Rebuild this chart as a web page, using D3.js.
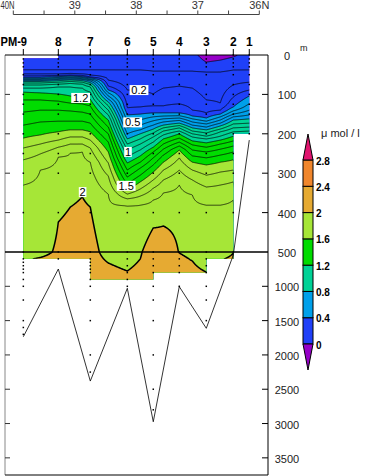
<!DOCTYPE html>
<html><head><meta charset="utf-8">
<script src="https://cdn.jsdelivr.net/npm/d3@7"></script>
<style>
body{margin:0;background:#fff}
svg{display:block}
text{font-family:"Liberation Sans",Arial,sans-serif}
</style>
</head><body>
<svg id="c" width="365" height="476"></svg>
<script>
// ---------------- data ----------------
const stationNames = ["PM-9","8","7","6","5","4","3","2","1"];
const stationLat   = [39.837, 39.268, 38.748, 38.146, 37.724, 37.301, 36.862, 36.423, 36.163];
const stationBottom = [1735, 748, 2381, 1029, 2974, 1005, 1612, 545, 216];
const sampleDepths = [
  [10,20,30,50,75,100,125,150,200,250,300,400,500,600,650,700,750,800,900,1000,1200,1500,1600,1700],
  [0,10,20,30,50,75,100,125,150,200,250,300,400,500,600],
  [0,10,20,30,50,75,100,125,150,200,250,300,400,500,600,650,700,750,800,900,1000,1200,1500,2000,2250],
  [0,10,20,30,50,75,100,125,150,200,250,300,400,500,600,700,800,900,1000],
  [0,10,20,30,50,75,100,125,150,200,250,300,400,500,600,700,800,1000,1200,1500,2000,2500,2800],
  [0,10,20,30,50,75,100,125,150,200,250,300,400,500,600,700,800,1000],
  [0,10,20,30,50,75,100,125,150,200,250,300,400,500,600,700,800,1000,1200,1500],
  [0,10,20,30,50,75,100,125,150,200,250,300,400,500],
  [0,10,20,30,50,75,100,125,150,200]
];
// data coverage between neighbouring stations (m)
const intervalTop    = [8, 0, 0, 0, 0, 0, 0, 0];
const intervalBottom = [600, 600, 900, 900, 800, 800, 600, 200];

// gridded section: column latitudes and [depth m, value umol/l] profiles
const columnLat = [39.837, 39.561, 39.268, 39.073, 38.878, 38.748, 38.455, 38.146, 37.935,
                   37.724, 37.561, 37.301, 37.089, 36.862, 36.634, 36.423, 36.163];
const profiles = [
  [[0,0.05],[38,0.1],[48,0.2],[53,0.3],[57,0.4],[60,0.5],[62,0.6],[65,0.7],[67,0.8],[71,0.9],[76,1.0],[84,1.1],[94,1.2],[114,1.3],[145,1.4],[178,1.5],[211,1.6],[236,1.7],[266,1.8],[330,1.9],[500,1.97],[600,1.993],[900,2.0]],
  [[0,0.05],[38,0.1],[48,0.2],[53,0.3],[57,0.4],[60,0.5],[62,0.6],[65,0.7],[67,0.8],[71,0.9],[76,1.0],[84,1.1],[96,1.2],[114,1.3],[140,1.4],[170,1.5],[203,1.6],[226,1.7],[251,1.8],[292,1.9],[500,1.98],[600,2.005],[900,2.01]],
  [[0,0.05],[38,0.1],[48,0.2],[52,0.3],[55,0.4],[57,0.5],[60,0.6],[62,0.7],[65,0.8],[69,0.9],[74,1.0],[81,1.1],[99,1.2],[117,1.3],[140,1.4],[168,1.5],[195,1.6],[216,1.7],[234,1.8],[259,1.9],[424,2.0],[500,2.01],[600,2.02],[900,2.02]],
  [[0,0.05],[38,0.1],[47,0.2],[51,0.3],[53,0.4],[56,0.5],[58,0.6],[61,0.7],[63,0.8],[67,0.9],[72,1.0],[81,1.1],[104,1.2],[122,1.3],[142,1.4],[168,1.5],[190,1.6],[208,1.7],[226,1.8],[249,1.9],[386,2.0],[500,2.06],[900,2.06]],
  [[0,0.05],[38,0.1],[48,0.2],[52,0.3],[55,0.4],[57,0.5],[60,0.6],[62,0.7],[65,0.8],[69,0.9],[74,1.0],[84,1.1],[109,1.2],[124,1.3],[145,1.4],[168,1.5],[190,1.6],[208,1.7],[226,1.8],[246,1.9],[360,2.0],[500,2.08],[900,2.08]],
  [[0,0.05],[38,0.1],[51,0.2],[56,0.3],[58,0.4],[61,0.5],[63,0.6],[66,0.7],[70,0.8],[75,0.9],[81,1.0],[94,1.1],[112,1.2],[129,1.3],[150,1.4],[173,1.5],[195,1.6],[216,1.7],[236,1.8],[272,1.9],[386,2.0],[500,2.04],[900,2.05]],
  [[0,0.05],[38,0.1],[64,0.2],[79,0.3],[89,0.4],[96,0.5],[104,0.6],[112,0.7],[119,0.8],[129,0.9],[140,1.0],[152,1.1],[165,1.2],[183,1.3],[200,1.4],[221,1.5],[246,1.6],[274,1.7],[307,1.8],[353,1.9],[500,1.96],[660,2.0],[900,2.04]],
  [[0,0.05],[38,0.1],[89,0.2],[134,0.3],[152,0.4],[170,0.5],[185,0.6],[200,0.7],[213,0.8],[226,0.9],[241,1.0],[259,1.1],[274,1.2],[292,1.3],[310,1.4],[327,1.5],[340,1.6],[353,1.7],[365,1.8],[383,1.9],[500,1.95],[777,2.0],[900,2.02]],
  [[0,0.05],[38,0.1],[89,0.2],[132,0.3],[150,0.4],[165,0.5],[178,0.6],[190,0.7],[200,0.8],[213,0.9],[226,1.0],[241,1.1],[256,1.2],[272,1.3],[287,1.4],[305,1.5],[322,1.6],[340,1.7],[358,1.8],[381,1.9],[500,1.99],[600,2.0],[900,2.04]],
  [[0,0.05],[41,0.1],[99,0.2],[129,0.3],[147,0.4],[157,0.5],[167,0.6],[178,0.7],[188,0.8],[198,0.9],[208,1.0],[221,1.1],[234,1.2],[246,1.3],[261,1.4],[279,1.5],[297,1.6],[317,1.7],[338,1.8],[368,1.9],[439,2.0],[500,2.06],[900,2.06]],
  [[0,0.05],[41,0.1],[84,0.2],[129,0.3],[147,0.4],[155,0.5],[162,0.6],[170,0.7],[178,0.8],[185,0.9],[193,1.0],[203,1.1],[213,1.2],[226,1.3],[239,1.4],[254,1.5],[272,1.6],[292,1.7],[317,1.8],[350,1.9],[434,2.0],[500,2.05],[900,2.05]],
  [[0,0.05],[41,0.1],[79,0.2],[124,0.3],[147,0.4],[154,0.5],[160,0.6],[166,0.7],[173,0.8],[179,0.9],[185,1.0],[193,1.1],[200,1.2],[211,1.3],[221,1.4],[231,1.5],[241,1.6],[261,1.7],[292,1.8],[330,1.9],[430,1.985],[500,1.997],[600,2.02],[900,2.03]],
  [[0,0.04],[41,0.1],[84,0.2],[140,0.3],[155,0.4],[162,0.5],[170,0.6],[178,0.7],[185,0.8],[193,0.9],[200,1.0],[208,1.1],[218,1.2],[228,1.3],[241,1.4],[256,1.5],[272,1.6],[292,1.7],[317,1.8],[355,1.9],[500,1.97],[630,2.0],[900,2.02]],
  [[0,-0.06],[18,0.0],[43,0.1],[114,0.2],[147,0.3],[160,0.4],[168,0.5],[175,0.6],[183,0.7],[190,0.8],[198,0.9],[206,1.0],[213,1.1],[223,1.2],[234,1.3],[246,1.4],[261,1.5],[279,1.6],[305,1.7],[335,1.8],[381,1.9],[500,1.96],[600,1.975],[792,2.0],[900,2.01]],
  [[0,-0.04],[13,0.0],[43,0.1],[122,0.2],[140,0.3],[150,0.4],[157,0.5],[165,0.6],[173,0.7],[180,0.8],[188,0.9],[195,1.0],[206,1.1],[216,1.2],[226,1.3],[239,1.4],[254,1.5],[272,1.6],[297,1.7],[330,1.8],[381,1.9],[500,1.97],[600,1.995],[660,2.0],[900,2.02]],
  [[0,-0.015],[5,0.0],[38,0.1],[76,0.2],[107,0.3],[132,0.4],[142,0.5],[150,0.6],[157,0.7],[165,0.8],[175,0.9],[185,1.0],[195,1.1],[206,1.2],[218,1.3],[231,1.4],[246,1.5],[266,1.6],[292,1.7],[322,1.8],[368,1.9],[500,1.995],[515,2.0],[600,2.01],[900,2.02]],
  [[0,0.04],[38,0.1],[69,0.2],[89,0.3],[104,0.4],[124,0.5],[140,0.6],[152,0.7],[162,0.8],[173,0.9],[183,1.0],[193,1.1],[203,1.2],[213,1.3],[240,1.4]]
];

const fillEdges  = [0, 0.4, 0.8, 1.2, 1.6, 2.0, 2.4, 2.8];
const fillColors = ["#2040f8", "#00a0ea", "#00d296", "#00dc00", "#a6e637", "#e6aa32", "#f0862c", "#e0146e"];
const belowColor = "#9600c8";
const lineLevels = [0, 0.1, 0.2, 0.3, 0.4, 0.5, 0.6, 0.7, 0.8, 0.9, 1.0, 1.1, 1.2, 1.3, 1.4, 1.5, 1.6, 1.7, 1.8, 1.9, 2.0];
const legendLabels = ["0", "0.4", "0.8", "1.2", "1.6", "2", "2.4", "2.8"];
const contourLabels = [
  {text:"0.2", lat:37.956, depth:89},
  {text:"1.2", lat:38.905, depth:109},
  {text:"0.5", lat:38.060, depth:171},
  {text:"1",   lat:38.135, depth:246},
  {text:"1.5", lat:38.165, depth:332},
  {text:"2",   lat:38.873, depth:348}
];
const latTicks = [40, 39.5, 39, 38.5, 38, 37.5, 37, 36.5, 36];
const latTickLabels = [[40,"40N"],[39,"39"],[38,"38"],[37,"37"],[36,"36N"]];
const depthTicks = [0, 100, 200, 300, 400, 500, 1000, 1500, 2000, 2500, 3000, 3500];

// ---------------- scales ----------------
const svg = d3.select("#c");
const x = d3.scaleLinear().domain([40, 36]).range([13.3, 259.3]);
const y = d3.scaleLinear().domain([0, 500, 3750]).range([55, 252, 475]);
const sx = stationLat.map(x);

// ---------------- field ----------------
function profileAt(p, d) {
  if (d <= p[0][0]) return p[0][1];
  for (let k = 1; k < p.length; k++) {
    if (d <= p[k][0]) {
      const [d0, v0] = p[k-1], [d1, v1] = p[k];
      return v0 + (v1 - v0) * (d - d0) / (d1 - d0);
    }
  }
  return p[p.length-1][1];
}
const colX = columnLat.map(x);
const res = 0.5, gx0 = 19, gy0 = 51, gx1 = 254, gy1 = 284;
const nx = Math.round((gx1 - gx0) / res), ny = Math.round((gy1 - gy0) / res);
const grid = new Float64Array(nx * ny);
for (let j = 0; j < ny; j++) {
  const d = Math.max(0, y.invert(gy0 + (j + 0.5) * res));
  const cv = profiles.map(p => profileAt(p, d));
  for (let i = 0; i < nx; i++) {
    const px = gx0 + (i + 0.5) * res;
    let v;
    if (px <= colX[0]) v = cv[0];
    else if (px >= colX[colX.length-1]) v = cv[cv.length-1];
    else {
      let k = 0;
      while (colX[k+1] < px) k++;
      const t = (px - colX[k]) / (colX[k+1] - colX[k]);
      v = cv[k] + (cv[k+1] - cv[k]) * t;
    }
    grid[j * nx + i] = v;
  }
}
const path = d3.geoPath(d3.geoIdentity().scale(res).translate([gx0, gy0]));
const contours = d3.contours().size([nx, ny]);

// data coverage polygon
const poly = [];
for (let k = 0; k < 8; k++) { poly.push([sx[k], y(intervalTop[k])], [sx[k+1], y(intervalTop[k])]); }
for (let k = 7; k >= 0; k--) { poly.push([sx[k+1], y(intervalBottom[k])], [sx[k], y(intervalBottom[k])]); }
svg.append("defs").append("clipPath").attr("id", "dataClip")
  .append("path").attr("d", "M" + poly.map(p => p.join(",")).join("L") + "Z");

const g = svg.append("g").attr("clip-path", "url(#dataClip)");
g.append("rect").attr("x", gx0).attr("y", gy0).attr("width", gx1 - gx0).attr("height", gy1 - gy0).attr("fill", belowColor);
fillEdges.forEach((t, i) => {
  g.append("path").attr("d", path(contours.contour(grid, t))).attr("fill", fillColors[i]);
});
lineLevels.forEach(t => {
  g.append("path").attr("d", path(contours.contour(grid, t)))
    .attr("fill", "none").attr("stroke", "#000")
    .attr("stroke-width", t === 2.0 ? 1.5 : 0.75).attr("stroke-linejoin", "round");
});

// sample dots
stationLat.forEach((lat, i) => {
  sampleDepths[i].forEach(dp => {
    svg.append("rect").attr("x", sx[i] - 0.75).attr("y", y(dp) - 0.75)
      .attr("width", 1.5).attr("height", 1.5).attr("fill", "#000");
  });
});

// contour labels
contourLabels.forEach(l => {
  const cx = x(l.lat), cy = y(l.depth);
  const w = l.text.length * 5.6 + 2;
  svg.append("rect").attr("x", cx - w/2).attr("y", cy - 5).attr("width", w).attr("height", 10).attr("fill", "#fff");
  svg.append("text").attr("x", cx).attr("y", cy + 4).attr("text-anchor", "middle")
    .attr("font-size", 11).attr("fill", "#000").text(l.text);
});

// bottom topography line
svg.append("path")
  .attr("d", d3.line()(stationLat.map((lat, i) => [sx[i], y(stationBottom[i])])))
  .attr("fill", "none").attr("stroke", "#000").attr("stroke-width", 0.8);

// frame
svg.append("line").attr("x1", 5).attr("x2", 5).attr("y1", 55).attr("y2", 475).attr("stroke", "#888").attr("stroke-width", 1);
svg.append("line").attr("x1", 5).attr("x2", 268).attr("y1", 55).attr("y2", 55).attr("stroke", "#000");
svg.append("line").attr("x1", 268).attr("x2", 268).attr("y1", 55).attr("y2", 475).attr("stroke", "#000");
svg.append("line").attr("x1", 5).attr("x2", 268).attr("y1", 475).attr("y2", 475).attr("stroke", "#000");
svg.append("line").attr("x1", 5).attr("x2", 268).attr("y1", y(500)).attr("y2", y(500)).attr("stroke", "#000").attr("stroke-width", 1.4);

// depth ticks and labels
depthTicks.forEach(dp => {
  const yy = y(dp);
  if (dp !== 0 && dp !== 500) {
    svg.append("line").attr("x1", 5).attr("x2", 10).attr("y1", yy).attr("y2", yy).attr("stroke", "#333");
    svg.append("line").attr("x1", 262).attr("x2", 268).attr("y1", yy).attr("y2", yy).attr("stroke", "#000");
  }
  svg.append("text").attr("x", 287).attr("y", yy + 5).attr("text-anchor", "middle")
    .attr("font-size", 11).attr("fill", "#222").text(dp);
});
svg.append("text").attr("x", 300).attr("y", 51).attr("font-size", 9).attr("fill", "#222").text("m");

// station ticks and labels
stationLat.forEach((lat, i) => {
  svg.append("line").attr("x1", sx[i]).attr("x2", sx[i]).attr("y1", 49).attr("y2", 55).attr("stroke", "#000");
  const t = svg.append("text").attr("y", 46).attr("font-size", 12).attr("font-weight", "bold")
    .attr("fill", "#000").text(stationNames[i]);
  if (i === 0) t.attr("x", 0.5).attr("textLength", 26.5).attr("lengthAdjust", "spacingAndGlyphs");
  else t.attr("x", sx[i]).attr("text-anchor", "middle");
});

// latitude axis
svg.append("line").attr("x1", x(40)).attr("x2", x(36)).attr("y1", 14.5).attr("y2", 14.5).attr("stroke", "#444");
latTicks.forEach(l => {
  svg.append("line").attr("x1", x(l)).attr("x2", x(l)).attr("y1", 10.5).attr("y2", 14.5).attr("stroke", "#444");
});
latTickLabels.forEach(([l, s]) => {
  const t = svg.append("text").attr("y", 9).attr("font-size", 11).attr("fill", "#333").text(s);
  if (l === 40) t.attr("x", 0.5).attr("textLength", 14).attr("lengthAdjust", "spacingAndGlyphs");
  else t.attr("x", x(l)).attr("text-anchor", "middle");
});

// legend
const ly = d3.scaleLinear().domain([0, 2.8]).range([344, 160]);
const lx0 = 303, lw = 10;
fillEdges.slice(0, 7).forEach((t, i) => {
  svg.append("rect").attr("x", lx0).attr("y", ly(fillEdges[i+1])).attr("width", lw)
    .attr("height", ly(t) - ly(fillEdges[i+1])).attr("fill", fillColors[i]).attr("stroke", "#000").attr("stroke-width", 1);
});
svg.append("path").attr("d", `M${lx0},${ly(2.8)}L${lx0+lw},${ly(2.8)}L${lx0+lw/2},${ly(2.8)-26}Z`)
  .attr("fill", fillColors[7]).attr("stroke", "#000").attr("stroke-width", 1);
svg.append("path").attr("d", `M${lx0},${ly(0)}L${lx0+lw},${ly(0)}L${lx0+lw/2},${ly(0)+26}Z`)
  .attr("fill", belowColor).attr("stroke", "#000").attr("stroke-width", 1);
legendLabels.forEach((s, i) => {
  svg.append("text").attr("x", 316).attr("y", ly(fillEdges[i]) + 4.5).attr("font-size", 10)
    .attr("font-weight", "bold").attr("fill", "#000").text(s);
});
svg.append("text").attr("x", 321).attr("y", 137).attr("font-size", 11).attr("fill", "#222").text("μ mol / l");
</script>
</body></html>
